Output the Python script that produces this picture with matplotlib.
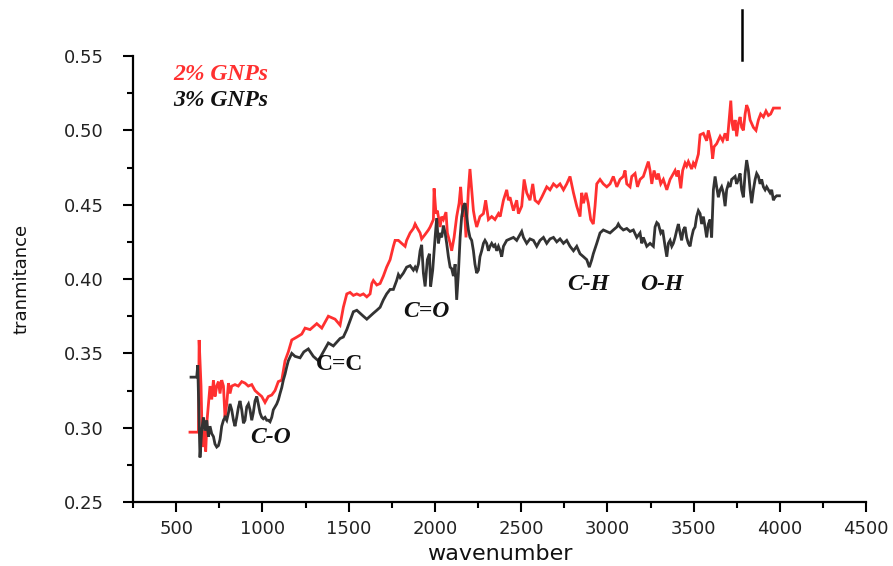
import matplotlib
matplotlib.use("Agg")
import matplotlib.pyplot as plt
from matplotlib.ticker import MultipleLocator

# ---- data: 2% GNPs (red) ----
wn_2 = [580, 629, 633, 644, 652, 663, 671, 679, 687, 696, 706, 716, 725, 735, 745, 754,
        764, 774, 783, 793, 803, 812, 822, 841, 860, 880, 899, 918, 938, 957, 976, 996,
        1015, 1034, 1054, 1073, 1092, 1112, 1131, 1150, 1170, 1200, 1228, 1247, 1276,
        1315, 1344, 1382, 1421, 1450, 1469, 1489, 1508, 1527, 1547, 1566, 1585, 1605,
        1624, 1634, 1643, 1663, 1682, 1701, 1720, 1740, 1759, 1769, 1788, 1807, 1827,
        1836, 1856, 1875, 1885, 1894, 1914, 1923, 1943, 1962, 1972, 1991, 1995, 2006,
        2014, 2030, 2039, 2049, 2064, 2072, 2088, 2097, 2111, 2126, 2140, 2149, 2161,
        2169, 2180, 2194, 2203, 2213, 2223, 2232, 2242, 2261, 2281, 2294, 2310, 2329,
        2348, 2368, 2378, 2397, 2416, 2426, 2435, 2455, 2474, 2484, 2503, 2517, 2532,
        2551, 2567, 2580, 2600, 2619, 2648, 2667, 2687, 2706, 2725, 2745, 2764, 2783,
        2803, 2822, 2841, 2851, 2861, 2876, 2889, 2903, 2918, 2928, 2938, 2957, 2976,
        2996, 3015, 3034, 3054, 3073, 3092, 3102, 3112, 3131, 3141, 3160, 3174, 3189,
        3208, 3228, 3237, 3247, 3257, 3270, 3286, 3295, 3309, 3324, 3344, 3363, 3382,
        3392, 3402, 3411, 3425, 3436, 3450, 3459, 3469, 3488, 3498, 3508, 3527, 3537,
        3556, 3575, 3585, 3599, 3610, 3618, 3633, 3653, 3668, 3682, 3695, 3707, 3715,
        3722, 3730, 3740, 3749, 3759, 3769, 3778, 3788, 3798, 3807, 3817, 3827, 3846,
        3861, 3875, 3888, 3904, 3919, 3933, 3946, 3962, 3981, 3997]
t_2 = [0.297, 0.297, 0.359, 0.328, 0.287, 0.298, 0.284, 0.305, 0.316, 0.328, 0.319, 0.332,
       0.321, 0.328, 0.331, 0.323, 0.332, 0.328, 0.307, 0.316, 0.330, 0.323, 0.328, 0.329,
       0.328, 0.331, 0.330, 0.328, 0.329, 0.325, 0.323, 0.321, 0.317, 0.321, 0.322, 0.325,
       0.331, 0.332, 0.345, 0.351, 0.359, 0.361, 0.363, 0.367, 0.366, 0.370, 0.367, 0.375,
       0.373, 0.369, 0.381, 0.390, 0.391, 0.389, 0.390, 0.389, 0.390, 0.388, 0.390, 0.397,
       0.399, 0.396, 0.397, 0.402, 0.408, 0.413, 0.422, 0.426, 0.426, 0.424, 0.422, 0.426,
       0.431, 0.434, 0.437, 0.435, 0.431, 0.427, 0.430, 0.433, 0.435, 0.440, 0.461, 0.444,
       0.446, 0.435, 0.442, 0.440, 0.445, 0.431, 0.424, 0.419, 0.428, 0.442, 0.451, 0.462,
       0.442, 0.451, 0.428, 0.460, 0.474, 0.460, 0.446, 0.440, 0.435, 0.442, 0.444, 0.453,
       0.440, 0.442, 0.440, 0.444, 0.442, 0.453, 0.460, 0.453, 0.455, 0.446, 0.453, 0.444,
       0.449, 0.467, 0.458, 0.453, 0.464, 0.453, 0.451, 0.455, 0.462, 0.460, 0.464, 0.462,
       0.464, 0.460, 0.464, 0.469, 0.458, 0.449, 0.442, 0.458, 0.451, 0.458, 0.451, 0.440,
       0.437, 0.449, 0.464, 0.467, 0.464, 0.462, 0.464, 0.469, 0.462, 0.467, 0.469, 0.473,
       0.464, 0.462, 0.469, 0.471, 0.462, 0.467, 0.469, 0.476, 0.479, 0.473, 0.464, 0.473,
       0.467, 0.471, 0.464, 0.467, 0.460, 0.467, 0.471, 0.473, 0.469, 0.473, 0.461, 0.473,
       0.478, 0.476, 0.479, 0.474, 0.478, 0.476, 0.484, 0.497, 0.498, 0.493, 0.500, 0.493,
       0.481, 0.489, 0.491, 0.496, 0.493, 0.498, 0.493, 0.509, 0.520, 0.505, 0.500, 0.507,
       0.496, 0.505, 0.509, 0.502, 0.500, 0.511, 0.517, 0.514, 0.507, 0.502, 0.500, 0.507,
       0.511, 0.509, 0.513, 0.510, 0.511, 0.515, 0.515, 0.515]

# ---- data: 3% GNPs (black) ----
wn_3 = [586, 619, 625, 633, 638, 648, 658, 667, 677, 687, 696, 706, 716, 725, 735, 745,
        754, 764, 774, 783, 793, 803, 812, 822, 832, 841, 851, 861, 870, 880, 890, 899,
        909, 919, 928, 938, 947, 957, 967, 976, 986, 996, 1005, 1015, 1025, 1034, 1044,
        1054, 1063, 1073, 1083, 1093, 1102, 1112, 1121, 1131, 1141, 1150, 1170, 1189,
        1218, 1240, 1266, 1295, 1324, 1353, 1382, 1411, 1450, 1469, 1489, 1508, 1527,
        1547, 1566, 1585, 1605, 1624, 1643, 1663, 1682, 1701, 1720, 1740, 1759, 1778,
        1788, 1798, 1817, 1836, 1856, 1875, 1885, 1894, 1904, 1914, 1923, 1933, 1943,
        1956, 1968, 1975, 1987, 2001, 2010, 2020, 2030, 2039, 2049, 2059, 2068, 2078,
        2088, 2097, 2107, 2117, 2126, 2136, 2146, 2155, 2165, 2175, 2184, 2194, 2203,
        2213, 2223, 2232, 2242, 2252, 2261, 2271, 2281, 2290, 2300, 2310, 2319, 2329,
        2339, 2348, 2358, 2368, 2378, 2387, 2397, 2416, 2435, 2455, 2474, 2493, 2503,
        2513, 2532, 2551, 2571, 2590, 2609, 2629, 2648, 2667, 2687, 2706, 2725, 2745,
        2764, 2783, 2803, 2822, 2841, 2861, 2880, 2895, 2909, 2918, 2938, 2957, 2976,
        2996, 3015, 3034, 3054, 3063, 3073, 3092, 3112, 3131, 3150, 3170, 3189, 3199,
        3208, 3228, 3247, 3266, 3276, 3286, 3295, 3309, 3320, 3334, 3344, 3353, 3363,
        3373, 3382, 3392, 3402, 3411, 3421, 3430, 3440, 3450, 3459, 3469, 3479, 3488,
        3498, 3508, 3517, 3527, 3537, 3546, 3556, 3566, 3575, 3585, 3595, 3604, 3614,
        3624, 3633, 3643, 3653, 3662, 3672, 3682, 3691, 3701, 3711, 3720, 3730, 3740,
        3749, 3759, 3769, 3778, 3788, 3798, 3807, 3817, 3827, 3836, 3846, 3856, 3865,
        3875, 3885, 3894, 3904, 3914, 3923, 3933, 3943, 3952, 3962, 3971, 3981, 3997]
t_3 = [0.334, 0.334, 0.342, 0.305, 0.280, 0.298, 0.307, 0.298, 0.305, 0.294, 0.301, 0.296,
       0.294, 0.289, 0.287, 0.288, 0.292, 0.301, 0.305, 0.307, 0.305, 0.310, 0.316, 0.312,
       0.305, 0.301, 0.307, 0.314, 0.318, 0.312, 0.303, 0.305, 0.314, 0.316, 0.312, 0.305,
       0.310, 0.318, 0.321, 0.316, 0.310, 0.307, 0.306, 0.307, 0.305, 0.305, 0.304, 0.307,
       0.312, 0.314, 0.316, 0.319, 0.323, 0.327, 0.332, 0.336, 0.341, 0.345, 0.350, 0.348,
       0.347, 0.351, 0.353, 0.348, 0.345, 0.351, 0.357, 0.355, 0.360, 0.361, 0.366, 0.372,
       0.378, 0.379, 0.377, 0.375, 0.373, 0.375, 0.377, 0.379, 0.381, 0.386, 0.390, 0.393,
       0.393, 0.399, 0.403, 0.401, 0.404, 0.408, 0.409, 0.406, 0.408, 0.406, 0.410, 0.419,
       0.423, 0.404, 0.395, 0.413, 0.417, 0.395, 0.406, 0.428, 0.441, 0.424, 0.431, 0.428,
       0.436, 0.431, 0.424, 0.415, 0.408, 0.407, 0.402, 0.410, 0.386, 0.404, 0.428, 0.442,
       0.449, 0.451, 0.442, 0.433, 0.428, 0.426, 0.419, 0.410, 0.404, 0.406, 0.415, 0.419,
       0.424, 0.426, 0.424, 0.419, 0.422, 0.424, 0.422, 0.423, 0.419, 0.422, 0.419, 0.415,
       0.422, 0.426, 0.427, 0.428, 0.426, 0.430, 0.432, 0.428, 0.424, 0.427, 0.426, 0.422,
       0.426, 0.428, 0.424, 0.427, 0.428, 0.425, 0.427, 0.424, 0.426, 0.422, 0.419, 0.422,
       0.417, 0.415, 0.413, 0.408, 0.413, 0.417, 0.424, 0.431, 0.433, 0.432, 0.431, 0.433,
       0.435, 0.437, 0.435, 0.433, 0.434, 0.432, 0.433, 0.428, 0.431, 0.424, 0.428, 0.422,
       0.424, 0.422, 0.435, 0.438, 0.437, 0.431, 0.433, 0.422, 0.415, 0.424, 0.426, 0.422,
       0.424, 0.428, 0.433, 0.437, 0.431, 0.426, 0.433, 0.435, 0.428, 0.424, 0.422, 0.428,
       0.433, 0.435, 0.442, 0.446, 0.444, 0.437, 0.442, 0.435, 0.428, 0.437, 0.440, 0.428,
       0.460, 0.469, 0.462, 0.455, 0.460, 0.462, 0.458, 0.449, 0.460, 0.464, 0.462, 0.467,
       0.468, 0.469, 0.464, 0.467, 0.471, 0.460, 0.455, 0.471, 0.480, 0.473, 0.460, 0.451,
       0.460, 0.467, 0.471, 0.469, 0.464, 0.467, 0.462, 0.460, 0.462, 0.460, 0.458, 0.460,
       0.453, 0.455, 0.456, 0.456]

series_labels = ["2% GNPs", "3% GNPs"]
band_labels = ["C-O", "C=C", "C=O", "C-H", "O-H"]
band_x = [928, 1311, 1815, 2766, 3189]
band_y = [0.2936, 0.3427, 0.3784, 0.3966, 0.3966]
band_italic = [True, False, True, True, True]
x_ticks = [500, 1000, 1500, 2000, 2500, 3000, 3500, 4000, 4500]
y_ticks = [0.25, 0.30, 0.35, 0.40, 0.45, 0.50, 0.55]
marker_x = 3780

red = "#FF3030"
dark = "#333333"

fig = plt.figure(figsize=(8.93, 5.66), dpi=100)
ax = fig.add_axes([0.149, 0.113, 0.821, 0.788])

ax.plot(wn_2, t_2, color=red, lw=2.0, solid_joinstyle="miter")
ax.plot(wn_3, t_3, color=dark, lw=2.0, solid_joinstyle="miter")

ax.set_xlim(250, 4500)
ax.set_ylim(0.25, 0.55)
ax.set_xticks(x_ticks)
ax.set_yticks(y_ticks)
ax.set_yticklabels([f"{v:.2f}" for v in y_ticks])
ax.xaxis.set_minor_locator(MultipleLocator(250))
ax.yaxis.set_minor_locator(MultipleLocator(0.025))
for s in ["top", "right"]:
    ax.spines[s].set_visible(False)
for s in ["left", "bottom"]:
    ax.spines[s].set_linewidth(1.6)
ax.tick_params(which="major", direction="out", length=7, width=1.5,
               labelsize=13, colors="black", pad=6)
ax.tick_params(which="minor", direction="out", length=4, width=1.5)
ax.tick_params(axis="y", which="major", pad=14)
for lbl in ax.get_xticklabels() + ax.get_yticklabels():
    lbl.set_color("#222222")

ax.set_xlabel("wavenumber", fontsize=16, labelpad=4, color="#111111")
ax.set_ylabel("tranmitance", fontsize=13, labelpad=24, color="#111111")

serif = "Liberation Serif"
ax.text(482, 0.5379, series_labels[0], color=red, fontsize=17, family=serif,
        fontweight="bold", style="italic", va="center", ha="left")
ax.text(482, 0.5204, series_labels[1], color="#111111", fontsize=17, family=serif,
        fontweight="bold", style="italic", va="center", ha="left")

for lab, bx, by, it in zip(band_labels, band_x, band_y, band_italic):
    ax.text(bx, by, lab, fontsize=17, family=serif, fontweight="bold",
            style="italic" if it else "normal", va="center", ha="left", color="#111111")

ax.plot([marker_x, marker_x], [0.547, 0.581], color="black", lw=1.8, clip_on=False)

fig.savefig("out.png", dpi=100)
